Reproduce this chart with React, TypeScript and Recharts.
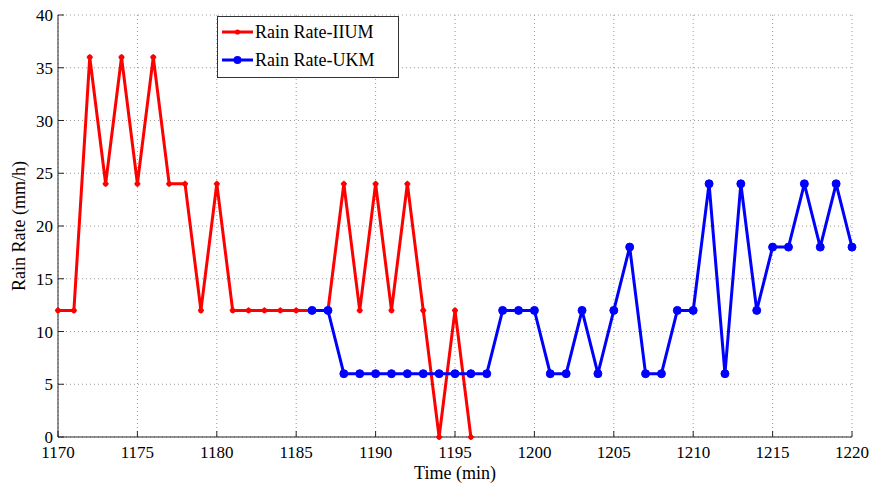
import React from 'react';
import { LineChart, Line, XAxis, YAxis, CartesianGrid } from 'recharts';

// Rain rate samples (minute, mm/h)
const iiumTime = [1170, 1171, 1172, 1173, 1174, 1175, 1176, 1177, 1178, 1179, 1180, 1181, 1182, 1183, 1184, 1185, 1186, 1187, 1188, 1189, 1190, 1191, 1192, 1193, 1194, 1195, 1196];
const iiumRate = [12, 12, 36, 24, 36, 24, 36, 24, 24, 12, 24, 12, 12, 12, 12, 12, 12, 12, 24, 12, 24, 12, 24, 12, 0, 12, 0];

const ukmTime = [1186, 1187, 1188, 1189, 1190, 1191, 1192, 1193, 1194, 1195, 1196, 1197, 1198, 1199, 1200, 1201, 1202, 1203, 1204, 1205, 1206, 1207, 1208, 1209, 1210, 1211, 1212, 1213, 1214, 1215, 1216, 1217, 1218, 1219, 1220];
const ukmRate = [12, 12, 6, 6, 6, 6, 6, 6, 6, 6, 6, 6, 12, 12, 12, 6, 6, 12, 6, 12, 18, 6, 6, 12, 12, 24, 6, 24, 12, 18, 18, 24, 18, 24, 18];

const xTicks = [1170, 1175, 1180, 1185, 1190, 1195, 1200, 1205, 1210, 1215, 1220];
const yTicks = [0, 5, 10, 15, 20, 25, 30, 35, 40];

const iiumData = iiumTime.map((t, i) => ({ t, v: iiumRate[i] }));
const ukmData = ukmTime.map((t, i) => ({ t, v: ukmRate[i] }));

const FONT = '"Liberation Serif", "Times New Roman", serif';
const AXIS = '#262626';
const TICK = 6;

const BottomTick = ({ x, y, payload }: any) => (
  <g>
    <line x1={x} y1={y} x2={x} y2={y - TICK} stroke={AXIS} />
    <text x={x} y={y + 21} textAnchor="middle" fontFamily={FONT} fontSize={17} fill="#000">
      {payload.value}
    </text>
  </g>
);

const TopTick = ({ x, y }: any) => <line x1={x} y1={y} x2={x} y2={y + TICK} stroke={AXIS} />;

const LeftTick = ({ x, y, payload }: any) => (
  <g>
    <line x1={x} y1={y} x2={x + TICK} y2={y} stroke={AXIS} />
    <text x={x - 5} y={y + 6} textAnchor="end" fontFamily={FONT} fontSize={17} fill="#000">
      {payload.value}
    </text>
  </g>
);

const RightTick = ({ x, y }: any) => <line x1={x} y1={y} x2={x - TICK} y2={y} stroke={AXIS} />;

const IiumDot = ({ cx, cy }: any) => (
  <g>
    <circle cx={cx} cy={cy} r={2.6} fill="#ff0000" />
    <line x1={cx - 3} y1={cy} x2={cx + 3} y2={cy} stroke="#ff0000" strokeWidth={1.5} />
    <line x1={cx} y1={cy - 3} x2={cx} y2={cy + 3} stroke="#ff0000" strokeWidth={1.5} />
  </g>
);

const UkmDot = ({ cx, cy }: any) => <circle cx={cx} cy={cy} r={4} fill="#0000ff" stroke="#0000ff" strokeWidth={1} />;

const LegendBox = () => (
  <svg width={182} height={62} style={{ position: 'absolute', left: 217, top: 16 }}>
    <rect x={0.5} y={0.5} width={181} height={61} fill="#fff" stroke="#333" />
    <line x1={5} y1={16} x2={36} y2={16} stroke="#ff0000" strokeWidth={3} />
    <circle cx={20.5} cy={16} r={2.6} fill="#ff0000" />
    <text x={38} y={22} fontFamily={FONT} fontSize={18} fill="#000">Rain Rate-IIUM</text>
    <line x1={5} y1={44} x2={36} y2={44} stroke="#0000ff" strokeWidth={3} />
    <circle cx={20.5} cy={44} r={4} fill="#0000ff" />
    <text x={38} y={50} fontFamily={FONT} fontSize={18} fill="#000">Rain Rate-UKM</text>
  </svg>
);

export default function App() {
  return (
    <div style={{ position: 'absolute', left: 0, top: 0, width: 872, height: 483, background: '#fff' }}>
      <LineChart width={872} height={483} margin={{ top: 15, right: 20, bottom: 0, left: 0 }}>
        <CartesianGrid stroke="#9a9a9a" strokeDasharray="1 3" />
        <XAxis
          type="number"
          dataKey="t"
          domain={[1170, 1220]}
          ticks={xTicks}
          interval={0}
          tickSize={0}
          tickMargin={0}
          tickLine={false}
          tick={<BottomTick />}
          axisLine={{ stroke: AXIS }}
          height={46}
          label={{ value: 'Time (min)', position: 'insideBottom', offset: 4, fontFamily: FONT, fontSize: 18, fill: '#000' }}
        />
        <XAxis
          xAxisId="top"
          orientation="top"
          type="number"
          domain={[1170, 1220]}
          ticks={xTicks}
          interval={0}
          tickSize={0}
          tickMargin={0}
          tickLine={false}
          tick={<TopTick />}
          axisLine={{ stroke: AXIS }}
          height={0}
        />
        <YAxis
          type="number"
          domain={[0, 40]}
          ticks={yTicks}
          interval={0}
          width={58}
          tickSize={0}
          tickMargin={0}
          tickLine={false}
          tick={<LeftTick />}
          axisLine={{ stroke: AXIS }}
          label={{ value: 'Rain Rate (mm/h)', angle: -90, position: 'insideLeft', offset: 19, style: { textAnchor: 'middle' }, fontFamily: FONT, fontSize: 18, fill: '#000' }}
        />
        <YAxis
          yAxisId="right"
          orientation="right"
          type="number"
          domain={[0, 40]}
          ticks={yTicks}
          interval={0}
          width={0}
          tickSize={0}
          tickMargin={0}
          tickLine={false}
          tick={<RightTick />}
          axisLine={{ stroke: AXIS }}
        />
        <Line
          data={iiumData}
          dataKey="v"
          stroke="#ff0000"
          strokeWidth={3}
          dot={<IiumDot />}
          activeDot={false}
          isAnimationActive={false}
        />
        <Line
          data={ukmData}
          dataKey="v"
          stroke="#0000ff"
          strokeWidth={3}
          dot={<UkmDot />}
          activeDot={false}
          isAnimationActive={false}
        />
      </LineChart>
      <LegendBox />
    </div>
  );
}
